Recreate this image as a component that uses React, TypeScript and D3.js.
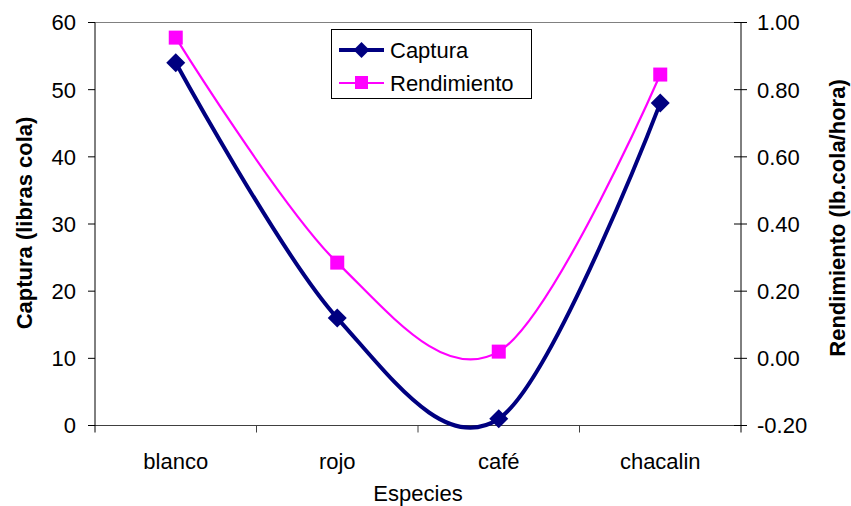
import { useEffect, useRef } from 'react';
import * as d3 from 'd3';

const especies = ['blanco', 'rojo', 'café', 'chacalin'];
const captura = [54, 16, 1, 48];
const rendimiento = [0.955, 0.285, 0.02, 0.845];
const capturaTicks = [0, 10, 20, 30, 40, 50, 60];
const rendimientoTicks = [-0.2, 0, 0.2, 0.4, 0.6, 0.8, 1.0];

const W = 851;
const H = 506;
const left = 95;
const right = 741;
const top = 22.5;
const bottom = 425.5;
const FONT = 'Arial, "Liberation Sans", sans-serif';
const FS = '22px';

export default function App() {
  const svgRef = useRef<SVGSVGElement>(null);

  useEffect(() => {
    if (!svgRef.current) return;
    const svg = d3.select(svgRef.current);
    svg.selectAll('*').remove();

    const x = d3.scaleBand<string>().domain(especies).range([left, right]);
    const cx = (c: string) => (x(c) ?? 0) + x.bandwidth() / 2;
    const yL = d3.scaleLinear().domain([0, 60]).range([bottom, top]);
    const yR = d3.scaleLinear().domain([-0.2, 1.0]).range([bottom, top]);

    svg.append('rect').attr('width', W).attr('height', H).attr('fill', '#fff');

    // plot frame: grey top line, dark bottom axis
    svg.append('line')
      .attr('x1', left).attr('x2', right).attr('y1', top).attr('y2', top)
      .attr('stroke', '#808080').attr('stroke-width', 1.2);
    svg.append('line')
      .attr('x1', left - 6).attr('x2', right + 6).attr('y1', bottom).attr('y2', bottom)
      .attr('stroke', '#404040').attr('stroke-width', 1.2);

    // left axis
    svg.append('line')
      .attr('x1', left).attr('x2', left).attr('y1', top).attr('y2', bottom + 7)
      .attr('stroke', '#000').attr('stroke-width', 1);
    capturaTicks.forEach((t) => {
      svg.append('line')
        .attr('x1', left - 7).attr('x2', left).attr('y1', yL(t)).attr('y2', yL(t))
        .attr('stroke', '#000');
      svg.append('text')
        .attr('x', 76).attr('y', yL(t)).attr('dy', '0.36em')
        .attr('text-anchor', 'end')
        .style('font-family', FONT).style('font-size', FS).style('fill', '#000')
        .text(d3.format('d')(t));
    });

    // right axis
    svg.append('line')
      .attr('x1', right).attr('x2', right).attr('y1', top).attr('y2', bottom + 7)
      .attr('stroke', '#000').attr('stroke-width', 1);
    rendimientoTicks.forEach((t) => {
      svg.append('line')
        .attr('x1', right - 7).attr('x2', right + 6).attr('y1', yR(t)).attr('y2', yR(t))
        .attr('stroke', '#000');
      svg.append('text')
        .attr('x', 757).attr('y', yR(t)).attr('dy', '0.36em')
        .style('font-family', FONT).style('font-size', FS).style('fill', '#000')
        .text(t.toFixed(2));
    });

    // category ticks and labels
    especies.forEach((c, i) => {
      const x0 = x(c) ?? 0;
      if (i > 0) {
        svg.append('line')
          .attr('x1', x0).attr('x2', x0).attr('y1', bottom).attr('y2', bottom + 7)
          .attr('stroke', '#404040');
      }
      svg.append('text')
        .attr('x', cx(c)).attr('y', 469)
        .attr('text-anchor', 'middle')
        .style('font-family', FONT).style('font-size', FS).style('fill', '#000')
        .text(c);
    });

    // axis titles
    svg.append('text')
      .attr('x', 418).attr('y', 501)
      .attr('text-anchor', 'middle')
      .style('font-family', FONT).style('font-size', FS).style('fill', '#000')
      .text('Especies');
    svg.append('text')
      .attr('transform', 'translate(32, 223) rotate(-90)')
      .attr('text-anchor', 'middle')
      .style('font-family', FONT).style('font-size', FS).style('font-weight', '700')
      .text('Captura (libras cola)');
    svg.append('text')
      .attr('transform', 'translate(845, 218) rotate(-90)')
      .attr('text-anchor', 'middle')
      .style('font-family', FONT).style('font-size', FS).style('font-weight', '700')
      .text('Rendimiento (lb.cola/hora)');

    // lines
    const curve = d3.curveCardinal.tension(0);
    const lineL = d3.line<number>()
      .x((_, i) => cx(especies[i]))
      .y((d) => yL(d))
      .curve(curve);
    const lineR = d3.line<number>()
      .x((_, i) => cx(especies[i]))
      .y((d) => yR(d))
      .curve(curve);

    svg.append('path')
      .attr('d', lineR(rendimiento) ?? '')
      .attr('fill', 'none').attr('stroke', '#FF00FF').attr('stroke-width', 2.2);
    svg.append('path')
      .attr('d', lineL(captura) ?? '')
      .attr('fill', 'none').attr('stroke', '#000080').attr('stroke-width', 4);

    const sq = 14;
    rendimiento.forEach((v, i) => {
      svg.append('rect')
        .attr('x', cx(especies[i]) - sq / 2).attr('y', yR(v) - sq / 2)
        .attr('width', sq).attr('height', sq)
        .attr('fill', '#FF00FF');
    });
    const dia = 9.5;
    captura.forEach((v, i) => {
      const px = cx(especies[i]);
      const py = yL(v);
      svg.append('path')
        .attr('d', `M${px},${py - dia}L${px + dia},${py}L${px},${py + dia}L${px - dia},${py}Z`)
        .attr('fill', '#000080');
    });

    // legend
    const lg = svg.append('g');
    lg.append('rect')
      .attr('x', 331.5).attr('y', 29.5).attr('width', 200).attr('height', 69)
      .attr('fill', '#fff').attr('stroke', '#000').attr('stroke-width', 1);
    lg.append('line')
      .attr('x1', 339).attr('x2', 384).attr('y1', 50).attr('y2', 50)
      .attr('stroke', '#000080').attr('stroke-width', 4);
    lg.append('path')
      .attr('d', `M361.5,${50 - 8}L${361.5 + 8},50L361.5,${50 + 8}L${361.5 - 8},50Z`)
      .attr('fill', '#000080');
    lg.append('text')
      .attr('x', 390).attr('y', 50).attr('dy', '0.36em')
      .style('font-family', FONT).style('font-size', FS)
      .text('Captura');
    lg.append('line')
      .attr('x1', 339).attr('x2', 384).attr('y1', 83).attr('y2', 83)
      .attr('stroke', '#FF00FF').attr('stroke-width', 2.2);
    lg.append('rect')
      .attr('x', 355).attr('y', 76).attr('width', 13).attr('height', 13)
      .attr('fill', '#FF00FF');
    lg.append('text')
      .attr('x', 390).attr('y', 83).attr('dy', '0.36em')
      .style('font-family', FONT).style('font-size', FS)
      .text('Rendimiento');
  }, []);

  return (
    <div style={{ position: 'fixed', left: 0, top: 0 }}>
      <svg ref={svgRef} width={W} height={H} style={{ display: 'block' }} />
    </div>
  );
}
